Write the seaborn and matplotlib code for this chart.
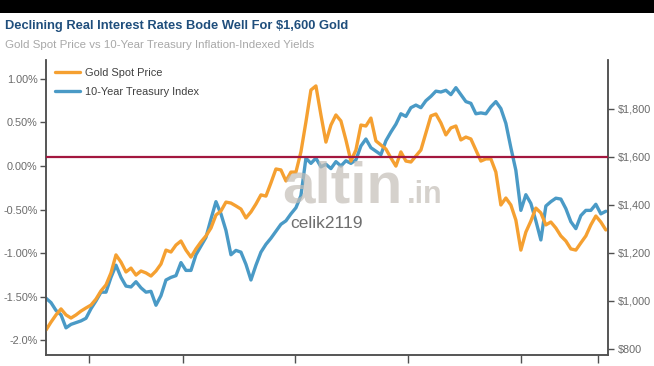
import numpy as np
import pandas as pd
import matplotlib
matplotlib.use("Agg")
import matplotlib.pyplot as plt
import seaborn as sns
from matplotlib import font_manager
from matplotlib.patches import Rectangle

# ---------------- data ----------------
title = "Declining Real Interest Rates Bode Well For $1,600 Gold"
subtitle = "Gold Spot Price vs 10-Year Treasury Inflation-Indexed Yields"
gold_label = "Gold Spot Price"
tips_label = "10-Year Treasury Index"

start_date = "2009-04-15"
end_date = "2014-04-01"

gold_price = [
    879, 912, 942, 967, 942, 929, 942, 958, 971, 983,
    1008, 1042, 1067, 1117, 1192, 1162, 1121, 1137, 1108, 1125,
    1117, 1104, 1125, 1154, 1212, 1204, 1233, 1250, 1212, 1183,
    1217, 1246, 1271, 1304, 1358, 1375, 1412, 1408, 1396, 1383,
    1346, 1371, 1404, 1442, 1437, 1492, 1550, 1546, 1500, 1537,
    1537, 1621, 1746, 1879, 1896, 1775, 1662, 1733, 1775, 1750,
    1671, 1583, 1629, 1733, 1729, 1762, 1667, 1650, 1633, 1596,
    1562, 1621, 1583, 1579, 1604, 1629, 1700, 1771, 1779, 1742,
    1692, 1721, 1729, 1671, 1683, 1675, 1629, 1583, 1592, 1592,
    1537, 1400, 1429, 1400, 1337, 1212, 1287, 1333, 1387, 1367,
    1317, 1329, 1304, 1271, 1250, 1217, 1212, 1242, 1271, 1317,
    1354, 1329, 1296,
]

tips_yield = [
    -1.52, -1.57, -1.66, -1.71, -1.86, -1.82, -1.80, -1.78, -1.75, -1.64,
    -1.55, -1.45, -1.45, -1.28, -1.14, -1.28, -1.38, -1.39, -1.33, -1.40,
    -1.45, -1.44, -1.60, -1.49, -1.31, -1.28, -1.26, -1.11, -1.20, -1.20,
    -1.02, -0.92, -0.82, -0.61, -0.41, -0.55, -0.74, -1.02, -0.97, -0.99,
    -1.13, -1.31, -1.14, -0.99, -0.90, -0.83, -0.75, -0.67, -0.63, -0.55,
    -0.48, -0.34, 0.09, 0.03, 0.09, -0.01, 0.02, -0.03, 0.05, 0.00,
    0.06, 0.03, 0.07, 0.23, 0.31, 0.21, 0.17, 0.13, 0.29, 0.39,
    0.48, 0.60, 0.57, 0.67, 0.70, 0.67, 0.75, 0.80, 0.86, 0.85,
    0.87, 0.82, 0.90, 0.82, 0.74, 0.72, 0.60, 0.61, 0.60, 0.68,
    0.74, 0.66, 0.49, 0.21, -0.05, -0.51, -0.33, -0.43, -0.63, -0.85,
    -0.46, -0.41, -0.37, -0.38, -0.49, -0.64, -0.72, -0.57, -0.51, -0.51,
    -0.44, -0.55, -0.52,
]

left_ticks = [1.0, 0.5, 0.0, -0.5, -1.0, -1.5, -2.0]
left_tick_labels = ["1.00%", "0.50%", "0.00%", "-0.50%", "-1.00%", "-1.50%", "-2.0%"]
right_ticks = [800, 1000, 1200, 1400, 1600, 1800]
right_tick_labels = ["$800", "$1,000", "$1,200", "$1,400", "$1,600", "$1,800"]
x_ticks = ["2009-09-01", "2010-07-01", "2011-07-01", "2012-07-01", "2013-07-01", "2014-03-07"]
reference_price = 1600

watermark_main = "altin"
watermark_tld = ".in"
watermark_user = "celik2119"

# ---------------- style ----------------
sns.set_theme(style="white")
available = {f.name for f in font_manager.fontManager.ttflist}
has_narrow = "Liberation Sans Narrow" in available
narrow = ["Liberation Sans Narrow", "Liberation Sans", "DejaVu Sans"] if has_narrow else ["Liberation Sans", "DejaVu Sans"]
regular = ["Liberation Sans", "DejaVu Sans"]
nscale = 1.0 if has_narrow else 0.88
plt.rcParams["font.family"] = regular

GOLD = "#F5A031"
BLUE = "#4A9AC6"
RED = "#A3173F"
SPINE = "#505050"
TICKTXT = "#6A6A6A"

dates = pd.date_range(start_date, end_date, periods=len(gold_price))
df = pd.DataFrame({"date": dates, "gold": gold_price, "tips": tips_yield})

fig = plt.figure(figsize=(6.54, 3.66), dpi=100)
fig.patch.set_facecolor("white")
fig.patches.append(Rectangle((0, 1 - 13 / 366), 1, 13 / 366, transform=fig.transFigure,
                             facecolor="black", edgecolor="none", zorder=0))

ax = fig.add_axes([46 / 654, 11 / 366, 562 / 654, 295 / 366])
ax2 = ax.twinx()

sns.lineplot(data=df, x="date", y="tips", ax=ax, color=BLUE, linewidth=2.4, label=tips_label, legend=False)
sns.lineplot(data=df, x="date", y="gold", ax=ax2, color=GOLD, linewidth=2.4, label=gold_label, legend=False)
ax2.axhline(reference_price, color=RED, linewidth=1.6, zorder=5)

ax.set_ylim(-2.172, 1.218)
ax2.set_ylim(775, 2004)
ax.set_xlim(pd.Timestamp(start_date), pd.Timestamp("2014-04-08"))

ax.set_yticks(left_ticks)
ax.set_yticklabels(left_tick_labels)
ax2.set_yticks(right_ticks)
ax2.set_yticklabels(right_tick_labels)
ax.set_xticks(pd.to_datetime(x_ticks))
ax.set_xticklabels([])
ax.set_xlabel("")
ax.set_ylabel("")
ax2.set_ylabel("")
ax.grid(False)
ax2.grid(False)

for a in (ax, ax2):
    a.spines["top"].set_visible(False)
    for s in ("left", "right", "bottom"):
        a.spines[s].set_color(SPINE)
        a.spines[s].set_linewidth(1.1)

ax.tick_params(axis="y", which="both", left=True, direction="out", length=4, width=1,
               color=SPINE, labelsize=7.8, labelcolor=TICKTXT, pad=2)
ax.tick_params(axis="x", which="both", bottom=True, direction="out", length=6, width=1, color=SPINE)
ax2.tick_params(axis="y", which="both", right=True, direction="out", length=4, width=1,
                color=SPINE, labelsize=7.8, labelcolor=TICKTXT, pad=3)

# legend
h2, l2 = ax2.get_legend_handles_labels()
h1, l1 = ax.get_legend_handles_labels()
leg = ax2.legend(h2 + h1, l2 + l1, loc="upper left", bbox_to_anchor=(0.0, 1.002), frameon=False,
                 handlelength=2.3, handletextpad=0.5, labelspacing=0.8, borderaxespad=0.4,
                 prop={"family": narrow, "size": 8.6 if has_narrow else 7.9})
for t in leg.get_texts():
    t.set_color("#404040")

# titles
fig.text(5 / 654, 1 - 26 / 366, title, ha="left", va="center", fontsize=10.6 * nscale,
         fontweight="bold", color="#1F4E7C", family=narrow)
fig.text(5 / 654, 1 - 45 / 366, subtitle, ha="left", va="center", fontsize=9.4 * nscale,
         color="#A8A8A8", family=narrow)

# watermark
fig.text(282 / 654, 1 - 203 / 366, watermark_main, ha="left", va="baseline", fontsize=42,
         fontweight="bold", color="#C4BEB7", alpha=0.7, family=regular, zorder=10)
fig.text(407 / 654, 1 - 203 / 366, watermark_tld, ha="left", va="baseline", fontsize=22,
         fontweight="bold", color="#C4BEB7", alpha=0.7, family=regular, zorder=10)
fig.text(290 / 654, 1 - 224 / 366, watermark_user, ha="left", va="center", fontsize=12.5,
         color="#555555", alpha=0.85, family=regular, zorder=10)

fig.savefig("out.png", dpi=100)
